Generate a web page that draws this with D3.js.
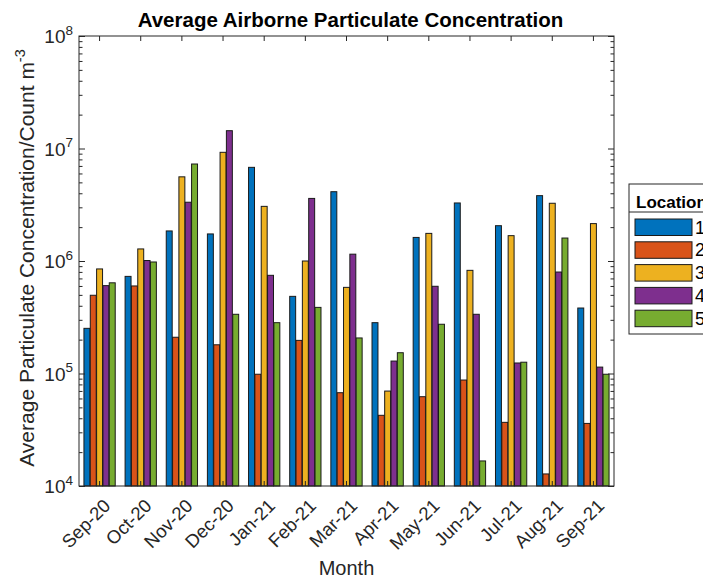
<!DOCTYPE html>
<html>
<head>
<meta charset="utf-8">
<script src="https://cdn.jsdelivr.net/npm/d3@7/dist/d3.min.js"></script>
<style>
  html, body { margin: 0; padding: 0; background: #fff; }
  svg { display: block; font-family: "Liberation Sans", Arial, sans-serif; }
</style>
</head>
<body>
<svg id="chart" width="703" height="580"></svg>
<script>
// Monthly averages per sampling location (count per cubic metre)
const months = ["Sep-20", "Oct-20", "Nov-20", "Dec-20", "Jan-21", "Feb-21", "Mar-21",
                "Apr-21", "May-21", "Jun-21", "Jul-21", "Aug-21", "Sep-21"];
const locationNames = ["1", "2", "3", "4", "5"];
const location1 = [2.52e5, 7.3e5, 1.85e6, 1.74e6, 6.8e6, 4.85e5, 4.13e6, 2.83e5, 1.62e6, 3.28e6, 2.06e6, 3.81e6, 3.82e5];
const location2 = [4.96e5, 6.0e5, 2.1e5, 1.8e5, 9.85e4, 1.97e5, 6.75e4, 4.25e4, 6.22e4, 8.75e4, 3.68e4, 1.28e4, 3.6e4];
const location3 = [8.5e5, 1.28e6, 5.6e6, 9.25e6, 3.06e6, 1.0e6, 5.83e5, 6.98e4, 1.76e6, 8.26e5, 1.68e6, 3.26e6, 2.15e6];
const location4 = [6.04e5, 1.01e6, 3.33e6, 1.44e7, 7.46e5, 3.6e6, 1.15e6, 1.29e5, 5.96e5, 3.36e5, 1.24e5, 7.98e5, 1.14e5];
const location5 = [6.4e5, 9.8e5, 7.28e6, 3.36e5, 2.83e5, 3.87e5, 2.07e5, 1.53e5, 2.74e5, 1.67e4, 1.26e5, 1.6e6, 9.85e4];
const yMajorExponents = [4, 5, 6, 7, 8];
const seriesColors = ["#0072BD", "#D95319", "#EDB120", "#7E2F8E", "#77AC30"];

const series = [location1, location2, location3, location4, location5];
const ink = "#262626";

const svg = d3.select("#chart");
const plotLeft = 79, plotRight = 614, plotTop = 36, plotBottom = 486;

const x = d3.scaleBand().domain(months).range([plotLeft, plotRight]).paddingInner(0).paddingOuter(0);
const groupWidth = x.bandwidth() * 5 / 6.5;
const xInner = d3.scaleBand().domain(d3.range(series.length)).range([-groupWidth / 2, groupWidth / 2]);
const barWidth = xInner.bandwidth() * 0.94;
const y = d3.scaleLog().domain([1e4, 1e8]).range([plotBottom, plotTop]);

// Bars
const rows = [];
series.forEach((vals, s) => vals.forEach((v, i) => rows.push({ s, m: months[i], v })));
svg.append("g").selectAll("rect").data(rows).join("rect")
  .attr("x", d => x(d.m) + x.bandwidth() / 2 + xInner(d.s) + (xInner.bandwidth() - barWidth) / 2)
  .attr("width", barWidth)
  .attr("y", d => y(d.v))
  .attr("height", d => y(1e4) - y(d.v))
  .attr("fill", d => seriesColors[d.s])
  .attr("stroke", "#1a1a1a")
  .attr("stroke-width", 1);

// Tick marks on all four sides, pointing inward
const majorVals = yMajorExponents.map(e => Math.pow(10, e));
const minorVals = [];
for (let e = 4; e < 8; e++) for (let k = 2; k <= 9; k++) minorVals.push(k * Math.pow(10, e));

function styleAxis(g) {
  g.select(".domain").remove();
  g.selectAll("line").attr("stroke", ink).attr("stroke-width", 1);
  g.selectAll("text").remove();
}
svg.append("g").attr("transform", `translate(${plotLeft},0)`)
  .call(d3.axisRight(y).tickValues(majorVals).tickSize(6).tickFormat("")).call(styleAxis);
svg.append("g").attr("transform", `translate(${plotLeft},0)`)
  .call(d3.axisRight(y).tickValues(minorVals).tickSize(3.5).tickFormat("")).call(styleAxis);
svg.append("g").attr("transform", `translate(${plotRight},0)`)
  .call(d3.axisLeft(y).tickValues(majorVals).tickSize(6).tickFormat("")).call(styleAxis);
svg.append("g").attr("transform", `translate(${plotRight},0)`)
  .call(d3.axisLeft(y).tickValues(minorVals).tickSize(3.5).tickFormat("")).call(styleAxis);
svg.append("g").attr("transform", `translate(0,${plotBottom})`)
  .call(d3.axisTop(x).tickSize(5).tickFormat("")).call(styleAxis);
svg.append("g").attr("transform", `translate(0,${plotTop})`)
  .call(d3.axisBottom(x).tickSize(5).tickFormat("")).call(styleAxis);

// Plot box
svg.append("rect").attr("x", plotLeft).attr("y", plotTop)
  .attr("width", plotRight - plotLeft).attr("height", plotBottom - plotTop)
  .attr("fill", "none").attr("stroke", ink).attr("stroke-width", 1);

// Y tick labels as powers of ten
const yLabels = svg.append("g").attr("fill", ink);
yMajorExponents.forEach(e => {
  const t = yLabels.append("text")
    .attr("x", 73).attr("y", y(Math.pow(10, e)) + 7)
    .attr("text-anchor", "end").attr("font-size", 19);
  t.append("tspan").text("10");
  t.append("tspan").attr("font-size", 13.5).attr("dy", -8.5).text(e);
});

// X tick labels, rotated
svg.append("g").selectAll("text").data(months).join("text")
  .attr("transform", d => `translate(${x(d) + x.bandwidth() / 2 + 12},${plotBottom + 21}) rotate(-45)`)
  .attr("text-anchor", "end").attr("font-size", 18.5).attr("fill", ink)
  .text(d => d);

// Axis titles
svg.append("text").attr("x", (plotLeft + plotRight) / 2).attr("y", 575)
  .attr("text-anchor", "middle").attr("font-size", 20).attr("fill", ink).text("Month");

const yTitle = svg.append("text")
  .attr("transform", `translate(34,${(plotTop + plotBottom) / 2 - 3}) rotate(-90)`)
  .attr("text-anchor", "middle").attr("font-size", 21).attr("fill", ink);
yTitle.append("tspan").text("Average Particulate Concentration/Count m");
yTitle.append("tspan").attr("font-size", 14.5).attr("dy", -9.5).text("-3");

svg.append("text").attr("x", (plotLeft + plotRight) / 2 + 4).attr("y", 27)
  .attr("text-anchor", "middle").attr("font-size", 20.5).attr("font-weight", "bold").attr("fill", "#000")
  .text("Average Airborne Particulate Concentration");

// Legend
const lg = svg.append("g");
lg.append("rect").attr("x", 629).attr("y", 184).attr("width", 120).attr("height", 150)
  .attr("fill", "#fff").attr("stroke", ink).attr("stroke-width", 1);
lg.append("text").attr("x", 636).attr("y", 208).attr("font-size", 17).attr("font-weight", "bold")
  .attr("fill", "#000").text("Location");
lg.append("line").attr("x1", 629).attr("x2", 703).attr("y1", 212).attr("y2", 212)
  .attr("stroke", ink).attr("stroke-width", 1);
const entries = lg.selectAll("g.entry").data(locationNames).join("g").attr("class", "entry")
  .attr("transform", (d, i) => `translate(0,${219 + i * 22.8})`);
entries.append("rect").attr("x", 635).attr("y", 0).attr("width", 57).attr("height", 16.5)
  .attr("fill", (d, i) => seriesColors[i]).attr("stroke", "#1a1a1a").attr("stroke-width", 1);
entries.append("text").attr("x", 695).attr("y", 14.5).attr("font-size", 18).attr("fill", "#000").text(d => d);
</script>
</body>
</html>
